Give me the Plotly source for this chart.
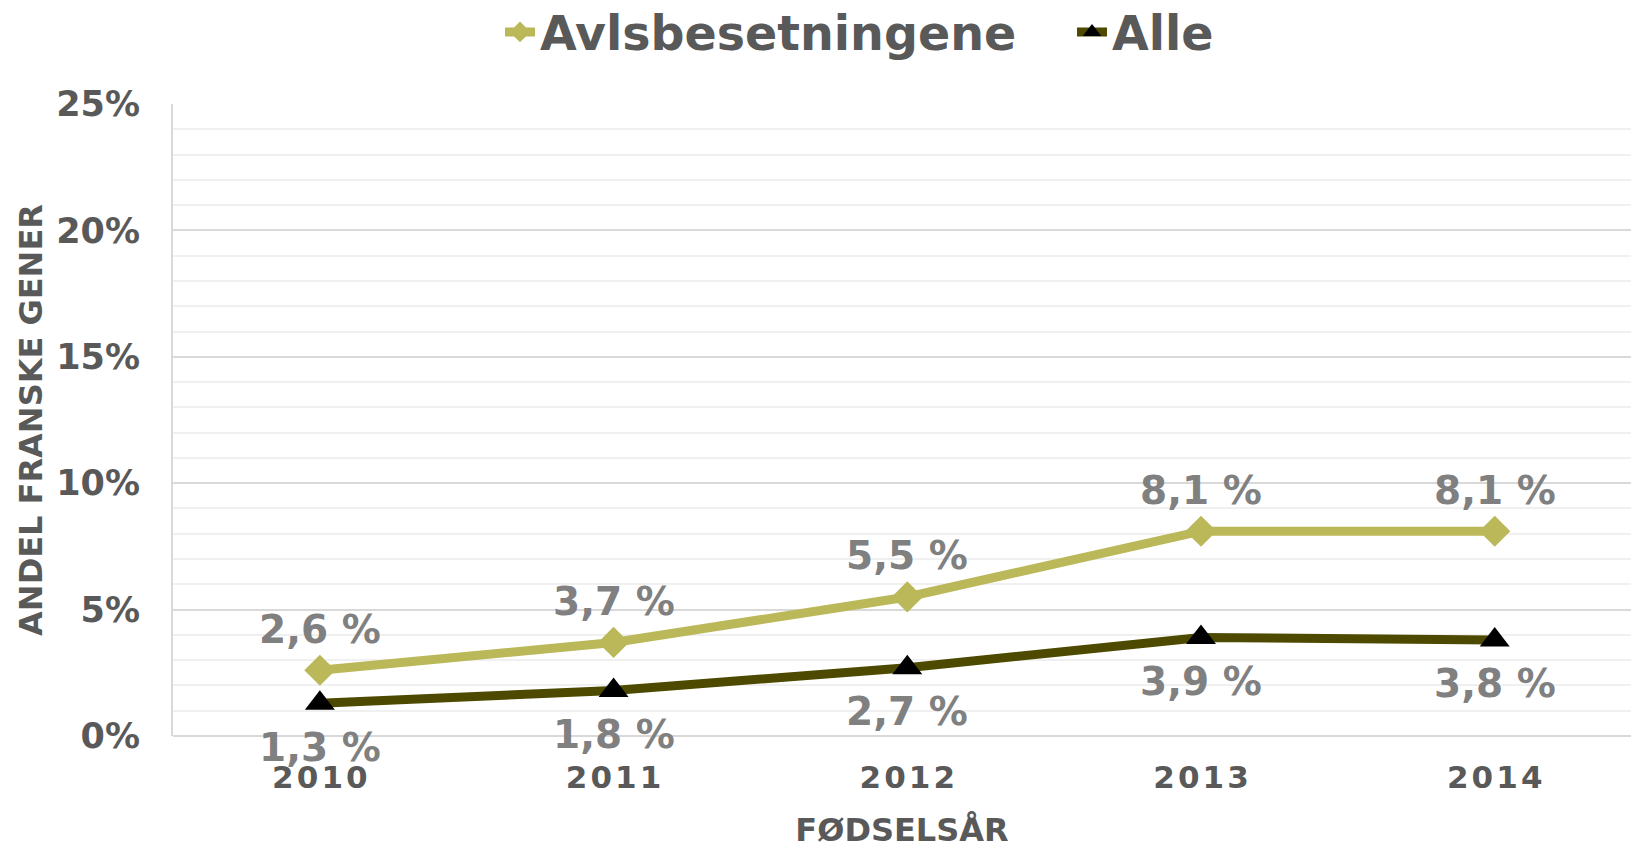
import plotly.graph_objects as go

years = ["2010", "2011", "2012", "2013", "2014"]
year_ticktext = ["2\u200a0\u200a1\u200a0", "2\u200a0\u200a1\u200a1", "2\u200a0\u200a1\u200a2", "2\u200a0\u200a1\u200a3", "2\u200a0\u200a1\u200a4"]
avls = [2.6, 3.7, 5.5, 8.1, 8.1]
alle = [1.3, 1.8, 2.7, 3.9, 3.8]
avls_labels = ["2,6 %", "3,7 %", "5,5 %", "8,1 %", "8,1 %"]
alle_labels = ["1,3 %", "1,8 %", "2,7 %", "3,9 %", "3,8 %"]
y_ticks = [0, 5, 10, 15, 20, 25]
y_ticklabels = ["0%", "5%", "10%", "15%", "20%", "25%"]

FONT = "DejaVu Sans"
TXT = "#595959"
LBL = "#808080"
C_AVLS = "#BBB85A"
C_ALLE = "#4D4A00"

fig = go.Figure()
fig.add_trace(go.Scatter(
    x=years, y=avls, name="Avlsbesetningene", mode="lines+markers",
    line=dict(color=C_AVLS, width=9),
    marker=dict(symbol="diamond", size=24, color=C_AVLS),
))
fig.add_trace(go.Scatter(
    x=years, y=alle, name="Alle", mode="lines+markers",
    line=dict(color=C_ALLE, width=9),
    marker=dict(symbol="triangle-up", size=26, color="#000000"),
))

# data labels: annotations anchored at each point's category position and value
annotations = []
for i, (v, t) in enumerate(zip(avls, avls_labels)):
    annotations.append(dict(x=i, y=v, xref="x", yref="y", text=t, showarrow=False, yshift=41,
                            xanchor="center", yanchor="middle",
                            font=dict(family=FONT, size=39, color=LBL, weight="bold")))
for i, (v, t) in enumerate(zip(alle, alle_labels)):
    annotations.append(dict(x=i, y=v, xref="x", yref="y", text=t, showarrow=False, yshift=-44,
                            xanchor="center", yanchor="middle",
                            font=dict(family=FONT, size=39, color=LBL, weight="bold")))

fig.update_layout(
    width=1631, height=849,
    margin=dict(l=173, r=0, t=104, b=113),
    paper_bgcolor="white", plot_bgcolor="white",
    font=dict(family=FONT, color=TXT, weight="bold"),
    showlegend=True,
    annotations=annotations,
    legend=dict(
        orientation="h", xref="container", yref="container",
        x=500 / 1631, xanchor="left", y=1 - 32 / 849, yanchor="middle",
        font=dict(family=FONT, size=47.5, color=TXT, weight="bold"),
        entrywidth=527, traceorder="normal",
    ),
    xaxis=dict(
        type="category", range=[-0.5, 4.464],
        tickvals=years, ticktext=year_ticktext,
        showgrid=False, showline=False, zeroline=False,
        tickfont=dict(family=FONT, size=31, color=TXT, weight="bold"),
        title=dict(text="FØDSELSÅR", font=dict(family=FONT, size=32, color=TXT, weight="bold"), standoff=24),
        ticks="", ticklabelstandoff=20,
    ),
    yaxis=dict(
        range=[0, 25], tickvals=y_ticks, ticktext=y_ticklabels,
        showgrid=True, gridcolor="#D9D9D9", gridwidth=1.5,
        minor=dict(dtick=1, showgrid=True, gridcolor="#F0F0F0", gridwidth=1.5),
        showline=True, linecolor="#D9D9D9", linewidth=2,
        zeroline=True, zerolinecolor="#D9D9D9", zerolinewidth=2,
        tickfont=dict(family=FONT, size=35, color=TXT, weight="bold"),
        ticks="", ticklabelstandoff=24,
        title=dict(text="ANDEL FRANSKE GENER", font=dict(family=FONT, size=32, color=TXT, weight="bold"), standoff=4),
    ),
)

fig.write_html(
    "out.html",
    config={"displayModeBar": False},
    post_script="document.body.style.margin='0';document.body.style.overflow='hidden';",
)
